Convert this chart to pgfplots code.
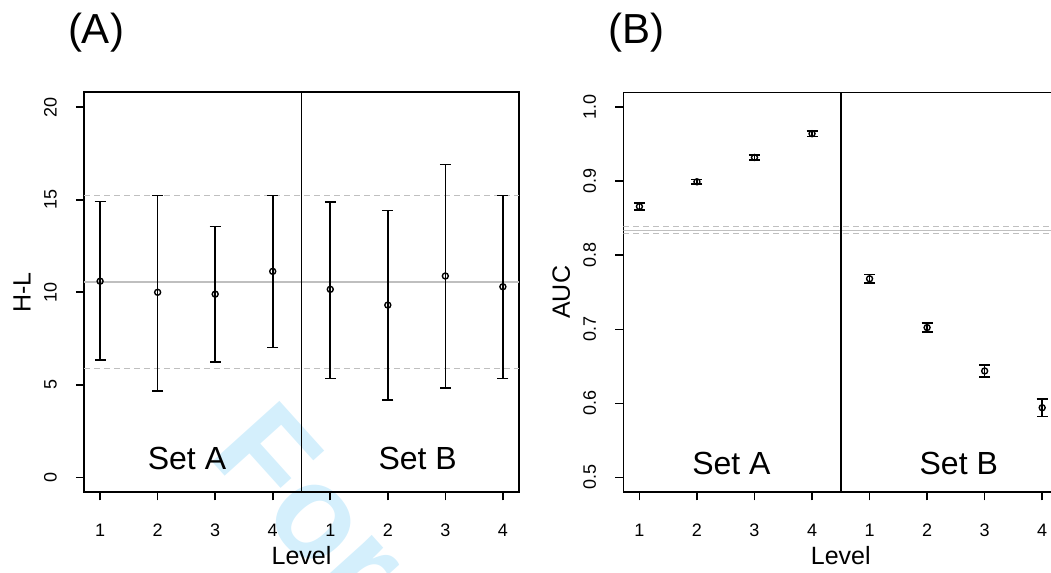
\documentclass[border=0pt]{standalone}
\usepackage{fontspec}
\setmainfont{Liberation Sans}
\usepackage{pgfplots}
\usepackage{pgfplotstable}
\pgfplotsset{compat=1.18}
\definecolor{refgray}{gray}{0.75}
\definecolor{wmark}{RGB}{212,239,252}

% H-L: level position, estimate, error up, error down
\pgfplotstableread{
x y ep em
1 10.60 4.30 4.27
2 10.00 5.23 5.34
3 9.90 3.65 3.68
4 11.13 4.10 4.12
5 10.16 4.71 4.81
6 9.31 5.11 5.12
7 10.88 6.03 6.06
8 10.30 4.93 4.95
}\hltab

% AUC: level position, estimate, error
\pgfplotstableread{
x y e
1 0.8658 0.0045
2 0.8992 0.0031
3 0.9320 0.0034
4 0.9641 0.0038
5 0.7683 0.0056
6 0.7024 0.0060
7 0.6438 0.0081
8 0.5942 0.0120
}\auctab

\tikzset{setlab/.style={font=\fontsize{16bp}{18bp}\selectfont}}

\pgfplotsset{
  rplot/.style={
    scale only axis, width=217.5bp, height=200bp,
    xmin=0.72, xmax=8.28,
    axis line style={line width=0.8bp},
    tick style={line width=0.8bp, black},
    tick align=outside, tick pos=left, major tick length=4bp,
    xtick={1,...,8}, xticklabels={1,2,3,4,1,2,3,4},
    xticklabel style={anchor=center, yshift=-15.2bp, font=\fontsize{9bp}{10bp}\selectfont},
    yticklabel style={xshift=-12.8bp, rotate=90, anchor=center, font=\fontsize{9bp}{10bp}\selectfont},
    every axis x label/.style={at={(axis description cs:0.5,0)}, anchor=center, yshift=-31.8bp, font=\fontsize{12.5bp}{14bp}\selectfont},
    every axis y label/.style={at={(axis description cs:0,0.5)}, xshift=-31bp, rotate=90, anchor=center, font=\fontsize{12.5bp}{14bp}\selectfont},
    xlabel={Level},
  },
  ci/.style={black, only marks, mark=o, mark size=1.5bp, mark options={line width=0.7bp},
    error bars/.cd, y dir=both, y explicit,
    error bar style={line width=0.8bp, black},
    error mark options={rotate=90, mark size=2.75bp, line width=0.8bp, black}},
}

\begin{document}
\begin{tikzpicture}
% watermark, behind everything
\node[wmark, rotate=-48, anchor=base west, inner sep=0pt, font=\bfseries\fontsize{66bp}{70bp}\selectfont]
  at (103bp,59bp) {For Peer Review};

\node[font=\fontsize{21bp}{24bp}\selectfont] at (48bp,270bp) {(A)};
\node[font=\fontsize{21bp}{24bp}\selectfont] at (318.3bp,270bp) {(B)};

\begin{axis}[rplot, at={(42bp,40.35bp)}, anchor=south west,
    ymin=-0.8, ymax=20.8, ytick={0,5,10,15,20}, yticklabels={0,5,10,15,20},
    ylabel={H-L}]
\addplot[refgray, line width=0.8bp, forget plot] coordinates {(0.72,10.57) (8.28,10.57)};
\addplot[refgray, line width=0.6bp, dash pattern=on 3bp off 2bp, forget plot] coordinates {(0.72,15.23) (8.28,15.23)};
\addplot[refgray, line width=0.6bp, dash pattern=on 3bp off 2bp, forget plot] coordinates {(0.72,5.87) (8.28,5.87)};
\addplot[black, line width=0.8bp, forget plot] coordinates {(4.5,-0.8) (4.5,20.8)};
\addplot[ci] table[x=x, y=y, y error plus=ep, y error minus=em] {\hltab};
\node[setlab] at (axis cs:2.51,1.0) {Set A};
\node[setlab] at (axis cs:6.52,1.0) {Set B};
\end{axis}

\begin{axis}[rplot, at={(311.65bp,40.35bp)}, anchor=south west,
    ymin=0.48, ymax=1.02, ytick={0.5,0.6,0.7,0.8,0.9,1.0},
    yticklabels={0.5,0.6,0.7,0.8,0.9,1.0},
    ylabel={AUC}]
\addplot[refgray, line width=0.6bp, dash pattern=on 3bp off 2bp, forget plot] coordinates {(0.72,0.8391) (8.28,0.8391)};
\addplot[refgray, line width=0.8bp, forget plot] coordinates {(0.72,0.8337) (8.28,0.8337)};
\addplot[refgray, line width=0.6bp, dash pattern=on 3bp off 2bp, forget plot] coordinates {(0.72,0.8292) (8.28,0.8292)};
\addplot[black, line width=0.8bp, forget plot] coordinates {(4.5,0.48) (4.5,1.02)};
\addplot[ci] table[x=x, y=y, y error=e] {\auctab};
\node[setlab] at (axis cs:2.6,0.519) {Set A};
\node[setlab] at (axis cs:6.55,0.519) {Set B};
\end{axis}

\pgfresetboundingbox
\useasboundingbox (0,0) rectangle (525.5bp,286.5bp);
\end{tikzpicture}
\end{document}
